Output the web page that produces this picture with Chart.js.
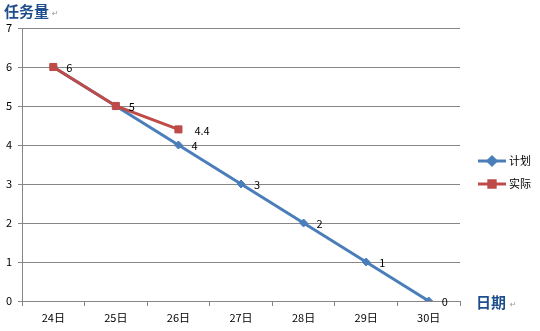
<!DOCTYPE html>
<html>
<head>
<meta charset="utf-8">
<script src="https://cdn.jsdelivr.net/npm/chart.js@4"></script>
<style>
  html, body { margin: 0; padding: 0; background: #fff; }
  #wrap { width: 540px; height: 331px; position: relative; }
</style>
</head>
<body>
<div id="wrap"><canvas id="burnChart"></canvas></div>
<script>
// chart data
const days = ["24日", "25日", "26日", "27日", "28日", "29日", "30日"];
const planValues = [6, 5, 4, 3, 2, 1, 0];
const actualValues = [6, 5, 4.4, null, null, null, null];
const yTicks = [0, 1, 2, 3, 4, 5, 6, 7];
const seriesNames = ["计划", "实际"];

const FONT = "'Noto Sans CJK SC', 'DejaVu Sans', sans-serif";
const BLUE = "#4a7ebb";
const RED = "#be4b48";
const TITLE = "#1f4e8c";

// labels, axis titles and legend drawn by hand
const extras = {
  id: "extras",
  afterDatasetsDraw(chart) {
    const c = chart.ctx;
    c.save();
    c.font = "11px " + FONT;
    c.fillStyle = "#000";
    c.textAlign = "left";
    c.textBaseline = "middle";
    chart.data.datasets.forEach((ds, i) => {
      const meta = chart.getDatasetMeta(i);
      meta.data.forEach((pt, j) => {
        if (ds.data[j] == null) return;
        // plan label hidden where the actual label sits on the same spot
        if (ds.label === "计划" && actualValues[j] === ds.data[j]) return;
        const off = ds.label === "实际" && j === 2 ? 16 : 13;
        c.fillText(String(ds.data[j]), pt.x + off, pt.y + 1);
      });
    });

    // axis titles
    c.font = "bold 15px " + FONT;
    c.fillStyle = TITLE;
    c.textBaseline = "middle";
    c.fillText("任务量", 4, 11);
    c.fillText("日期", 476, 302);
    c.font = "8px " + FONT;
    c.fillStyle = "#999";
    c.fillText("↵", 52, 13);
    c.fillText("↵", 510, 304);

    // legend
    const items = [[seriesNames[0], BLUE, "rectRot", 4], [seriesNames[1], RED, "rect", 4.5]];
    items.forEach((it, k) => {
      const y = 161 + k * 23;
      c.strokeStyle = it[1];
      c.lineWidth = 3;
      c.beginPath();
      c.moveTo(478, y);
      c.lineTo(506, y);
      c.stroke();
      Chart.helpers.drawPoint(c, { pointStyle: it[2], radius: it[3], borderWidth: 1 }, 492, y);
      c.fillStyle = it[1];
      c.fill();
      c.font = "11px " + FONT;
      c.fillStyle = "#000";
      c.fillText(it[0], 509, y);
    });
    c.restore();
  }
};

const ctx = document.getElementById("burnChart").getContext("2d");
new Chart(ctx, {
  type: "line",
  data: {
    labels: days,
    datasets: [
      {
        label: seriesNames[0],
        data: planValues,
        order: 1,
        borderColor: BLUE,
        backgroundColor: BLUE,
        borderWidth: 3,
        pointStyle: "rectRot",
        pointRadius: 4,
        pointBorderWidth: 1,
        tension: 0
      },
      {
        label: seriesNames[1],
        data: actualValues,
        order: 0,
        borderColor: RED,
        backgroundColor: RED,
        borderWidth: 3,
        pointStyle: "rect",
        pointRadius: 5,
        pointBorderWidth: 1,
        tension: 0
      }
    ]
  },
  options: {
    responsive: true,
    maintainAspectRatio: false,
    animation: false,
    layout: { padding: { left: 0, right: 80, top: 28, bottom: 0 } },
    plugins: {
      legend: { display: false },
      tooltip: { enabled: false }
    },
    scales: {
      x: {
        offset: true,
        grid: { offset: true, drawOnChartArea: false, drawTicks: true, tickLength: 5, color: "#868686" },
        border: { color: "#868686" },
        ticks: { color: "#000", font: { family: FONT, size: 11 }, padding: 5, maxRotation: 0 },
        afterFit: s => { s.height = 30; }
      },
      y: {
        min: 0,
        max: 7,
        afterBuildTicks: s => { s.ticks = yTicks.map(v => ({ value: v })); },
        grid: { color: "#868686", tickLength: 4 },
        border: { color: "#868686" },
        ticks: { color: "#000", font: { family: FONT, size: 11 }, padding: 6 },
        afterFit: s => { s.width = 22; }
      }
    }
  },
  plugins: [extras]
});
</script>
</body>
</html>
